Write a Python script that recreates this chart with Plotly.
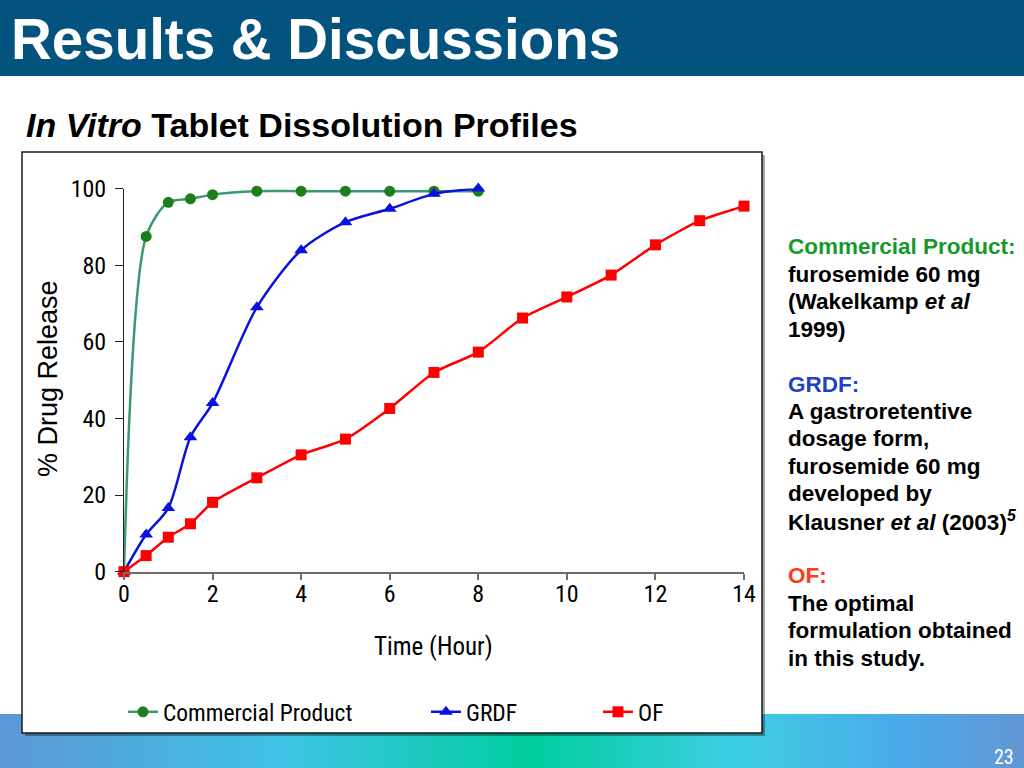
import plotly.graph_objects as go

# ---------------- data ----------------
time_cp = [0, 0.5, 1, 1.5, 2, 3, 4, 5, 6, 7, 8]
release_cp = [0, 87.5, 96.4, 97.3, 98.4, 99.3, 99.3, 99.3, 99.3, 99.3, 99.3]

time_grdf = [0, 0.5, 1, 1.5, 2, 3, 4, 5, 6, 7, 8]
release_grdf = [0, 9.7, 16.6, 35.1, 44.0, 69.0, 83.9, 91.2, 94.7, 98.6, 100.0]

time_of = [0, 0.5, 1, 1.5, 2, 3, 4, 5, 6, 7, 8, 9, 10, 11, 12, 13, 14]
release_of = [0, 4.2, 9.0, 12.5, 18.1, 24.5, 30.5, 34.6, 42.6, 52.0, 57.3,
              66.2, 71.7, 77.4, 85.3, 91.6, 95.4]

series_names = ["Commercial Product", "GRDF", "OF"]
x_ticks = [0, 2, 4, 6, 8, 10, 12, 14]
y_ticks = [0, 20, 40, 60, 80, 100]

side_lines = [
    ("<span style='color:#17992a'>Commercial Product:</span>"),
    "furosemide 60 mg",
    "(Wakelkamp <i>et al</i>",
    "1999)",
    "",
    "<span style='color:#1f44c2'>GRDF:</span>",
    "A gastroretentive",
    "dosage form,",
    "furosemide 60 mg",
    "developed by",
    "Klausner <i>et al</i> (2003)<sup><i>5</i></sup>",
    "",
    "<span style='color:#ff3a1a'>OF:</span>",
    "The optimal",
    "formulation obtained",
    "in this study.",
]

W, H = 1024, 768


def px(x):
    return x / W


def py(y):
    return 1 - y / H


NARROW = "Liberation Sans Narrow, Arial Narrow, Roboto Condensed, sans-serif"
ARIAL = "Liberation Sans, Arial, sans-serif"

fig = go.Figure()

fig.add_trace(go.Scatter(
    x=time_cp, y=release_cp, name=series_names[0], mode="lines+markers",
    line=dict(color="#3a9a6c", width=2.5, shape="spline", smoothing=0.8),
    marker=dict(symbol="circle", size=11, color="#1c7f1c"),
    cliponaxis=False, legend="legend", showlegend=True))
fig.add_trace(go.Scatter(
    x=time_grdf, y=release_grdf, name=series_names[1], mode="lines+markers",
    line=dict(color="#0a10e0", width=2.5, shape="spline", smoothing=0.8),
    marker=dict(symbol="triangle-up", size=12, color="#0a10e0"),
    cliponaxis=False, legend="legend2", showlegend=True))
fig.add_trace(go.Scatter(
    x=time_of, y=release_of, name=series_names[2], mode="lines+markers",
    line=dict(color="#ff0000", width=2.5, shape="spline", smoothing=0.6),
    marker=dict(symbol="square", size=11, color="#ff0000"),
    cliponaxis=False, legend="legend3", showlegend=True))

# ---------------- decorative shapes ----------------
shapes = []
stops = [(0.0, (92, 150, 214)), (0.28, (62, 196, 230)), (0.52, (0, 206, 160)),
         (0.72, (62, 206, 228)), (0.88, (74, 170, 232)), (1.0, (98, 150, 212))]


def grad(t):
    for (t0, c0), (t1, c1) in zip(stops[:-1], stops[1:]):
        if t0 <= t <= t1:
            f = (t - t0) / (t1 - t0)
            return "rgb(%d,%d,%d)" % tuple(round(a + (b - a) * f) for a, b in zip(c0, c1))
    return "rgb(%d,%d,%d)" % stops[-1][1]


n = 128
for i in range(n):
    x0 = i * W / n
    x1 = (i + 1) * W / n + 0.6
    shapes.append(dict(type="rect", xref="paper", yref="paper", layer="below",
                       x0=px(x0), x1=px(min(x1, W)), y0=py(768), y1=py(714),
                       line=dict(width=0), fillcolor=grad((i + 0.5) / n)))
shapes.append(dict(type="rect", xref="paper", yref="paper", layer="below",
                   x0=0, x1=1, y0=py(76), y1=1, line=dict(width=0), fillcolor="#04537e"))
shapes.append(dict(type="rect", xref="paper", yref="paper", layer="below",
                   x0=px(25), x1=px(765), y0=py(736), y1=py(155),
                   line=dict(width=0), fillcolor="rgba(0,0,0,0.35)"))
shapes.append(dict(type="rect", xref="paper", yref="paper", layer="below",
                   x0=px(22), x1=px(762), y0=py(733), y1=py(152),
                   line=dict(width=1.5, color="#1a1a1a"), fillcolor="white"))

annotations = []
annotations.append(dict(text="<b>Results &amp; Discussions</b>", xref="paper", yref="paper",
                        x=px(9), y=py(39.5), xanchor="left", yanchor="middle", showarrow=False,
                        font=dict(family=ARIAL, size=56.5, color="white")))
annotations.append(dict(text="<b><i>In Vitro</i> Tablet Dissolution Profiles</b>",
                        xref="paper", yref="paper", x=px(24), y=py(125),
                        xanchor="left", yanchor="middle", showarrow=False,
                        font=dict(family=ARIAL, size=34, color="black")))
for i, line in enumerate(side_lines):
    if not line:
        continue
    annotations.append(dict(text="<b>" + line + "</b>", xref="paper", yref="paper",
                            x=px(786), y=py(247 + i * 27.4), xanchor="left", yanchor="middle",
                            align="left", showarrow=False,
                            font=dict(family=ARIAL, size=22.5, color="black")))
annotations.append(dict(text="% Drug Release", xref="paper", yref="paper",
                        x=px(48), y=py(379), xanchor="center", yanchor="middle",
                        textangle=-90, showarrow=False,
                        font=dict(family=ARIAL, size=27, color="black")))
annotations.append(dict(text="Time (Hour)", xref="paper", yref="paper",
                        x=px(433), y=py(646), xanchor="center", yanchor="middle",
                        showarrow=False, font=dict(family=NARROW, size=25, color="black")))
annotations.append(dict(text="23", xref="paper", yref="paper",
                        x=px(1016), y=py(757), xanchor="right", yanchor="middle",
                        showarrow=False, font=dict(family=NARROW, size=20, color="white")))

legend_common = dict(orientation="h", bgcolor="rgba(0,0,0,0)", borderwidth=0,
                     font=dict(family=NARROW, size=23.5, color="black"),
                     xanchor="left", yanchor="middle", itemwidth=30)

fig.update_layout(
    width=W, height=H, margin=dict(l=0, r=0, t=0, b=0, pad=0, autoexpand=False),
    paper_bgcolor="white", plot_bgcolor="rgba(0,0,0,0)", showlegend=True,
    shapes=shapes, annotations=annotations,
    legend=dict(x=px(123), y=py(712), **legend_common),
    legend2=dict(x=px(426), y=py(712), **legend_common),
    legend3=dict(x=px(598), y=py(712), **legend_common),
    xaxis=dict(domain=[px(124), px(744)], range=[0, 14], tickvals=x_ticks,
               showgrid=False, zeroline=False, showline=True, linecolor="#6e6e6e",
               linewidth=2, ticks="outside", ticklen=6, tickwidth=1.5, tickcolor="#6e6e6e",
               ticklabelstandoff=-7, automargin=False,
               tickfont=dict(family=NARROW, size=24, color="black"), fixedrange=True),
    yaxis=dict(domain=[py(571.7), py(188.5)], range=[0, 100], tickvals=y_ticks,
               showgrid=False, zeroline=False, showline=True, linecolor="#222222",
               linewidth=1, ticks="outside", ticklen=8, tickwidth=1, tickcolor="#222222",
               ticklabelstandoff=4, automargin=False,
               tickfont=dict(family=NARROW, size=24, color="black"), fixedrange=True),
)

fig.write_html("out.html", config={"displayModeBar": False}, post_script=(
    "document.documentElement.style.margin='0';document.documentElement.style.overflow='hidden';"
    "document.body.style.margin='0';document.body.style.overflow='hidden';"))
